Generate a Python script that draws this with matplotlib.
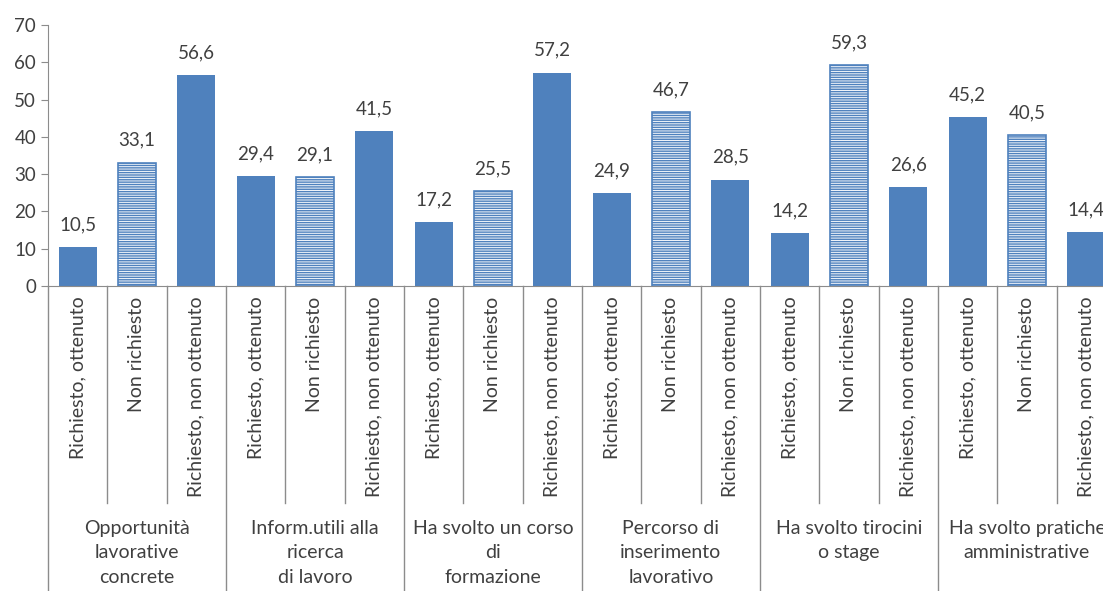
import matplotlib.pyplot as plt
import matplotlib.transforms as mtransforms
import numpy as np

plt.rcParams['hatch.linewidth'] = 1.0

categories = ['Richiesto, ottenuto', 'Non richiesto', 'Richiesto, non ottenuto'] * 6
values = [10.5, 33.1, 56.6,
          29.4, 29.1, 41.5,
          17.2, 25.5, 57.2,
          24.9, 46.7, 28.5,
          14.2, 59.3, 26.6,
          45.2, 40.5, 14.4]
groups = ['Opportunità\nlavorative\nconcrete',
          'Inform.utili alla\nricerca\ndi lavoro',
          'Ha svolto un corso\ndi\nformazione',
          'Percorso di\ninserimento\nlavorativo',
          'Ha svolto tirocini\no stage',
          'Ha svolto pratiche\namministrative']

blue = '#4F81BD'
grey = '#404040'
linec = '#8c8c8c'
font = 'Lato'

fig = plt.figure(figsize=(11.03, 5.91), dpi=100)
ax = fig.add_axes([48 / 1103, 305 / 591, 1068 / 1103, 261 / 591])

x = np.arange(len(values))
for i, v in enumerate(values):
    if i % 3 == 1:
        ax.bar(i, v, width=0.64, facecolor='#f4f7fb', edgecolor=blue,
               hatch='-------', linewidth=1.2)
    else:
        ax.bar(i, v, width=0.64, color=blue)
    ax.annotate(f'{v:.1f}'.replace('.', ','), (i, v), xytext=(0, 10),
                textcoords='offset points', ha='center', va='bottom',
                fontsize=13.5, color=grey, family=font)

ax.set_xlim(-0.5, 17.5)
ax.set_ylim(0, 70)
ax.set_yticks(range(0, 71, 10))
ax.tick_params(axis='y', labelsize=13.5, labelcolor=grey, color=linec, length=5)
for lbl in ax.get_yticklabels():
    lbl.set_family(font)
ax.set_xticks([])
for s in ['top', 'right']:
    ax.spines[s].set_visible(False)
ax.spines['left'].set_color(linec)
ax.spines['bottom'].set_color(linec)

trans = mtransforms.blended_transform_factory(ax.transData, ax.transAxes)
# category labels
for i, c in enumerate(categories):
    ax.text(i, -0.04, c, transform=trans, rotation=90, ha='center', va='top',
            fontsize=14, color=grey, family=font)
# separators
for b in np.arange(-0.5, 18, 1):
    k = int(b + 0.5)
    bottom = -1.2 if k % 3 == 0 else -0.83
    ax.plot([b, b], [0, bottom], transform=trans, color=linec, lw=1,
            clip_on=False)
# group labels
for g, name in enumerate(groups):
    ax.text(3 * g + 1, -0.895, name, transform=trans, ha='center', va='top',
            fontsize=14, color=grey, family=font, linespacing=1.55)

fig.savefig('out.png', dpi=100)
